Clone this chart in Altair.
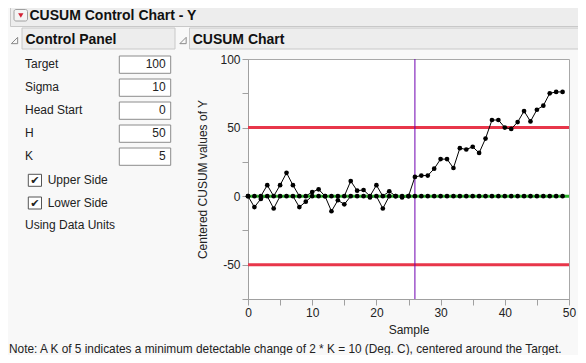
import altair as alt
import pandas as pd

# ---------------- data ----------------
samples = list(range(50))
upper_cusum = [0, 0, 0, 8, 0, 8, 17, 8, 0, 0, 3, 5, 0, 0, 0, 0, 11, 4, 4.5, 0,
               8, 0, 3.5, 0, 0, 0, 14, 15, 15, 20, 27, 27, 20.5, 35, 34, 36, 31.5, 42, 55.5, 55.5,
               50, 49, 54, 62, 54.5, 63, 66, 75, 76, 76]
lower_cusum = [0, -8, -2, 0, -9, 0, 0, 0, -8, -4, 0, 0, 0, -11, -3, -6, 0, 0, 0, -1,
               0, -9, 0, 0, -1, 0, 0, 0, 0, 0, 0, 0, 0, 0, 0, 0, 0, 0, 0, 0,
               0, 0, 0, 0, 0, 0, 0, 0, 0, 0]
decision_limits = [50, -50]
center_line = [0]
shift_sample = [26]

panel_labels = ["Target", "Sigma", "Head Start", "H", "K"]
panel_values = ["100", "10", "0", "50", "5"]
check_labels = ["Upper Side", "Lower Side"]
note_text = ("Note: A K of 5 indicates a minimum detectable change of 2 * K = 10 (Deg. C), "
             "centered around the Target.")

# ---------------- helpers ----------------
FONT = "Liberation Sans"
one = pd.DataFrame({"k": [0]})


def rect(x1, y1, x2, y2, fill, stroke="#C8C8C8", sw=1, cr=0):
    return alt.Chart(one).mark_rect(fill=fill, stroke=stroke, strokeWidth=sw, cornerRadius=cr).encode(
        x=alt.value(x1), x2=alt.value(x2), y=alt.value(y1), y2=alt.value(y2))


def txt(x, y, s, size=12, bold=False, align="left", color="#222222", font=FONT):
    return alt.Chart(one).mark_text(text=s, align=align, baseline="alphabetic", fontSize=size,
                                    fontWeight="bold" if bold else "normal", font=font,
                                    color=color).encode(x=alt.value(x), y=alt.value(y))


def symbol(x, y, shape, size, fill=None, stroke=None, sw=1):
    kw = dict(shape=shape, size=size, strokeWidth=sw, opacity=1)
    kw["filled"] = fill is not None
    if fill is not None:
        kw["fill"] = fill
    if stroke is not None:
        kw["stroke"] = stroke
    return alt.Chart(one).mark_point(**kw).encode(x=alt.value(x), y=alt.value(y))


xscale = alt.Scale(domain=[0, 50], nice=False)
yscale = alt.Scale(domain=[-75, 100], nice=False)

# ---------------- UI decoration (report frame) ----------------
ui = [
    rect(-237.5, -55, 345, -32.5, "#EDEDED"),
    rect(-234, -49.5, -220.5, -38, "#F4F4F4", stroke="#A0A0A0", cr=2),
    symbol(-227.2, -43.5, "triangle-down", 28, fill="#D42033"),
    txt(-218.5, -38.8, "CUSUM Control Chart - Y", size=14, bold=True, color="#111111"),
    rect(-226, -31, -73, -10, "#EDEDED"),
    rect(-58.5, -31, 345, -10, "#EDEDED"),
    symbol(-233.5, -18.5, "M 1 -1 L 1 1 L -1 1 Z", 40, stroke="#8A8A8A"),
    symbol(-65, -18.5, "M 1 -1 L 1 1 L -1 1 Z", 40, stroke="#8A8A8A"),
    txt(-222.5, -15.3, "Control Panel", size=14, bold=True, color="#111111"),
    txt(-55.3, -15.3, "CUSUM Chart", size=14, bold=True, color="#111111"),
]
for i, (lab, val) in enumerate(zip(panel_labels, panel_values)):
    base = 8.7 + 23 * i
    ui.append(txt(-223, base, lab))
    ui.append(rect(-128.7, base - 11.7, -77.3, base + 5.6, "white", stroke="#8C8C8C"))
    ui.append(txt(-82.3, base, val, align="right"))
for i, lab in enumerate(check_labels):
    base = 125 + 22.7 * i
    ui.append(rect(-219.7, base - 9.7, -206.5, base + 2.3, "white", stroke="#555555"))
    ui.append(txt(-213.1, base, "\u2714", size=11, align="center", font="DejaVu Sans"))
    ui.append(txt(-200.3, base, lab))
ui.append(txt(-223, 170, "Using Data Units"))
ui.append(txt(-239, 293.5, note_text, size=11.85))

# ---------------- chart ----------------
series = pd.DataFrame({
    "Sample": samples * 2,
    "Value": upper_cusum + lower_cusum,
    "Side": ["Upper"] * len(samples) + ["Lower"] * len(samples),
})

xaxis = alt.Axis(values=list(range(0, 51, 5)),
                 labelExpr="datum.value % 10 === 0 ? '' + datum.value : ''",
                 title="Sample", tickSize=6, grid=False, labelPadding=2, titlePadding=6,
                 labelFlush=False, labelOverlap=False)
yaxis = alt.Axis(values=list(range(-75, 101, 25)),
                 labelExpr="datum.value % 50 === 0 ? '' + datum.value : ''",
                 title="Centered CUSUM values of Y", tickSize=6, grid=False,
                 labelPadding=2, titlePadding=10, labelFlush=False, labelOverlap=False)

limits = alt.Chart(pd.DataFrame({"y": decision_limits})).mark_rule(
    color="#E8364A", strokeWidth=3).encode(y=alt.Y("y:Q", scale=yscale, axis=yaxis))
center = alt.Chart(pd.DataFrame({"y": center_line})).mark_rule(
    color="#2CB52C", strokeWidth=3).encode(y=alt.Y("y:Q", scale=yscale, axis=yaxis))
vline = alt.Chart(pd.DataFrame({"x": shift_sample})).mark_rule(
    color="#6E00B0", strokeWidth=1).encode(x=alt.X("x:Q", scale=xscale, axis=xaxis))

lines = alt.Chart(series).mark_line(color="black", strokeWidth=1).encode(
    x=alt.X("Sample:Q", scale=xscale, axis=xaxis),
    y=alt.Y("Value:Q", scale=yscale, axis=yaxis),
    detail="Side:N")
points = alt.Chart(series).mark_circle(color="black", size=22, opacity=1).encode(
    x=alt.X("Sample:Q", scale=xscale, axis=xaxis),
    y=alt.Y("Value:Q", scale=yscale, axis=yaxis))

chart = alt.layer(limits, vline, lines, center, points, *ui).properties(
    width=321, height=240,
    autosize=alt.AutoSizeParams(type="none"),
    padding={"left": 240, "top": 51, "right": 9, "bottom": 56},
    background="#F8F8F8",
).configure_view(fill="white", stroke="#A8A8A8").configure_axis(
    domainColor="#A0A0A0", tickColor="#A0A0A0",
    labelFont=FONT, labelFontSize=12, labelColor="#222222",
    titleFont=FONT, titleFontSize=12, titleFontWeight="normal", titleColor="#222222",
)

chart.save("out.html", embed_options={"renderer": "svg", "actions": False})
